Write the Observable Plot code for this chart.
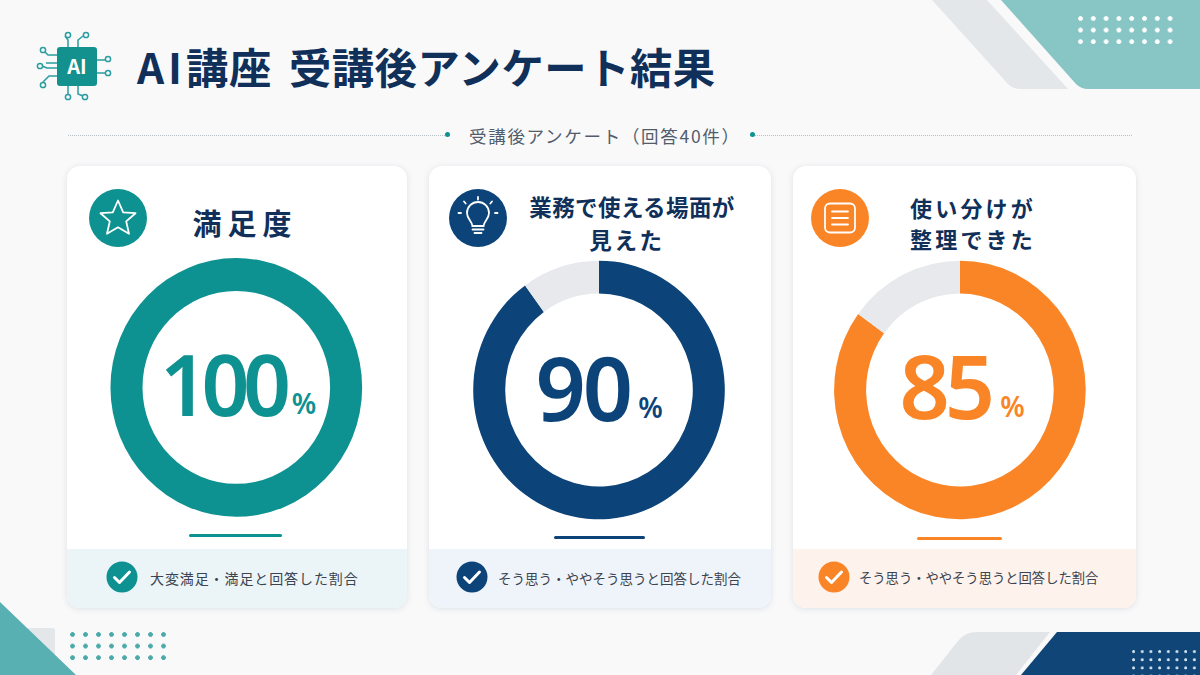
<!doctype html>
<html lang="ja"><head><meta charset="utf-8">
<script src="https://cdn.jsdelivr.net/npm/d3@7"></script>
<script src="https://cdn.jsdelivr.net/npm/@observablehq/plot@0.6"></script>
<style>
html,body{margin:0;background:#f9f9fa;}
#page{position:relative;width:1200px;height:675px;overflow:hidden;background:#f9f9fa;font-family:"Noto Sans CJK JP","Noto Sans",sans-serif;color:#10305a;}
#page div{position:absolute;box-sizing:border-box;}
h1{position:absolute;left:137px;top:36px;margin:0;font-size:42.3px;line-height:60px;font-weight:700;letter-spacing:.55px;word-spacing:7px;color:#10305a;white-space:nowrap;}
h1 span{letter-spacing:4px;}
.sub{left:469px;top:123px;font-size:17.5px;line-height:26px;letter-spacing:1.7px;color:#525c6b;white-space:nowrap;font-weight:400;}
.rule{top:134.5px;height:0;border-top:1px dotted #b9c0c5;}
.dotm{top:132px;width:5px;height:5px;border-radius:50%;background:#0e9191;}
.card{background:#fff;border-radius:13px;box-shadow:0 1px 6px rgba(40,60,80,.13);overflow:hidden;}
.band{left:0;right:0;height:59px;bottom:0;}
.ttl{text-align:center;font-weight:700;color:#10305a;}
.ttl span{display:block;white-space:nowrap;}
.cap{white-space:nowrap;color:#3b4450;font-weight:400;}
.ul{height:3px;border-radius:2px;}
.dots{background-repeat:repeat;}
</style></head><body>
<div id="page"></div>
<script>
// ---- data ----
const categories = ["満足度", "業務で使える場面が\n見えた", "使い分けが\n整理できた"];
const agreeShare = [100, 90, 85];
const restShare  = [0, 10, 15];
const captions = ["大変満足・満足と回答した割合", "そう思う・ややそう思うと回答した割合", "そう思う・ややそう思うと回答した割合"];
const colors = ["#0e9191", "#0c4479", "#fa8526"];
const bandColors = ["#ebf5f8", "#eff3fa", "#fdf2ec"];
const restColor = "#e7e9ec";
const pageTitleHead = "AI";
const pageTitleTail = "講座 受講後アンケート結果";
const pageSubtitle = "受講後アンケート（回答40件）";
const percentSign = "%";

// ---- layout of the slide furniture ----
const cardX = [67, 429, 793], cardW = [340, 342, 343], cardY = 166, cardH = 442;
const titleStyle = [
  {x:245, y:203, fs:29, ls:[6], lh:38, dx:[0]},
  {x:632, y:190, fs:22.5, ls:[.4,2.6], lh:33, dx:[0,-5]},
  {x:973, y:192, fs:22, ls:[3.2,3.2], lh:31, dx:[0,0]}];
const iconX = [118, 478, 840], iconY = 218;
const ulX = [189, 554, 917], ulW = [93, 91, 85], ulY = [534, 536, 537];
const checkX = [122, 472, 834];
const capStyle = [{x:150, fs:14, ls:.9},{x:498, fs:13.5, ls:0},{x:859, fs:13.3, ls:0}];
const donutOffset = [[-1.2,-2.6],[.5,0],[.4,0]];
const numberSize = [84, 88, 88], numberSpacing = [-6.5, -3, -5];
const numberDx = [-78, -63.5, -60.5], numberDy = [-1, 2, .5], percentDx = [7, 8, 10];

const page = document.getElementById("page");
function el(cls, css, html){const d=document.createElement("div");d.className=cls;d.style.cssText=css;if(html!==undefined)d.innerHTML=html;page.appendChild(d);return d;}
function dots(x,y,w,h,sx,sy,r,c){el("dots",`left:${x}px;top:${y}px;width:${w}px;height:${h}px;background-image:radial-gradient(circle at ${r+.5}px ${r+.5}px,${c} ${r}px,transparent ${r+.7}px);background-size:${sx}px ${sy}px;`);}

// corners
el("",`left:920px;top:0;width:160px;height:90px;background:#e3e7ea;clip-path:path('M12 0 L67 0 L148 89 L100 89 Q93 89 88 84 Z');`);
el("",`left:990px;top:0;width:210px;height:90px;background:#88c5c5;clip-path:path('M11 0 L210 0 L210 89 L98 89 Q91 89 86 84 Z');`);
dots(1078,16,96,30,12.8,11.6,2,"#ffffff");
el("",`left:0;top:628px;width:55px;height:47px;background:#e3e7ea;border-radius:0 3px 0 0;`);
el("",`left:0;top:600px;width:80px;height:75px;background:#58b0b2;clip-path:polygon(0 2px,76px 75px,0 75px);`);
dots(70,632,96,30,13,11.6,2,"#4ba9a9");
el("",`left:925px;top:632px;width:130px;height:43px;background:#e1e5e8;clip-path:path('M6 43 L33 9 Q40 0 52 0 L125 0 L91 43 Z');`);
el("",`left:1015px;top:632px;width:185px;height:43px;background:#0f4577;clip-path:polygon(42px 0,185px 0,185px 43px,6px 43px);`);
dots(1132,650,68,25,8.7,8.2,1.1,"#d7e4ee");

// header
const h=document.createElement("h1");h.innerHTML=`<span>${pageTitleHead}</span>${pageTitleTail}`;page.appendChild(h);
el("",`left:36px;top:30px;width:78px;height:72px;`,`<svg width="78" height="72" viewBox="36 30 78 72" fill="none" stroke="#2a9da0" stroke-width="1.5">
<path d="M68 48V40L65 36M78 48V40L83 36M68 86V94L67 96M78 86V94L83 96M57 55H48L43 50M57 63H46M57 68H47L42 66M57 76H49L43 82M97 60H107M97 73H107"/>
<g fill="#f9f9fa"><circle cx="68" cy="35" r="2.6"/><circle cx="86" cy="35" r="2.6"/><circle cx="68" cy="97" r="2.6"/><circle cx="85" cy="97" r="2.6"/><circle cx="43" cy="50" r="2.6"/><circle cx="40" cy="66" r="2.6"/><circle cx="43" cy="85" r="2.6"/><circle cx="108" cy="59" r="2.6"/><circle cx="108" cy="73" r="2.6"/></g>
<rect x="57" y="47" width="40" height="39" rx="3" fill="#12918f" stroke="none"/>
<text x="77" y="74" text-anchor="middle" font-family="Noto Sans CJK JP" font-size="20" font-weight="700" fill="#fff" stroke="none">AI</text></svg>`);
el("rule","left:68px;width:377px;");
el("rule","left:755px;width:377px;");
el("dotm","left:445px;");el("dotm","left:750px;");
el("sub","",pageSubtitle);

// cards
const icons=[
 `<path d="M0 -17.5 L5.2 -5.7 L17.5 -4.8 L8.2 3.4 L11 15.8 L0 9.3 L-11 15.8 L-8.2 3.4 L-17.5 -4.8 L-5.2 -5.7 Z" stroke-linejoin="round"/>`,
 `<path d="M-5.6 8 C-6 3 -11 1 -11 -5 A11 11 0 0 1 11 -5 C11 1 6 3 5.6 8 Z M-5.5 11.5H5.5M-3.5 15H3.5M0 -21V-18.5M-14 -16.5L-12.3 -14.5M14 -16.5L12.3 -14.5M-17 -5H-19.5M17 -5H19.5" stroke-linecap="round"/>`,
 `<rect x="-15" y="-14.5" width="30" height="29" rx="5"/><path d="M-8 -6.5H8M-8 0H8M-8 6.5H8" stroke-linecap="round"/>`];
categories.forEach((c,i)=>{
  el("card",`left:${cardX[i]}px;top:${cardY}px;width:${cardW[i]}px;height:${cardH}px;`,`<div class="band" style="background:${bandColors[i]}"></div>`);
  el("",`left:${iconX[i]-30}px;top:${iconY-30}px;width:60px;height:60px;`,`<svg width="60" height="60" viewBox="-30 -30 60 60"><circle r="29" fill="${colors[i]}"/><g fill="none" stroke="#fff" stroke-width="1.8">${icons[i]}</g></svg>`);
  const t=titleStyle[i];
  const lines=c.split("\n").map((l,j)=>`<span style="letter-spacing:${t.ls[j]}px;transform:translateX(${t.dx[j]}px)">${l}</span>`).join("");
  el("ttl",`left:${t.x-200}px;top:${t.y}px;width:400px;font-size:${t.fs}px;line-height:${t.lh}px;`,lines);
  el("ul",`left:${ulX[i]}px;top:${ulY[i]}px;width:${ulW[i]}px;background:${colors[i]};`);
  el("",`left:${checkX[i]-16}px;top:561px;width:32px;height:32px;`,`<svg width="32" height="32" viewBox="-16 -16 32 32"><circle r="15.5" fill="${colors[i]}"/><path d="M-7.5 0.5L-2.5 5.5L7.5 -5" fill="none" stroke="#fff" stroke-width="3" stroke-linecap="round" stroke-linejoin="round"/></svg>`);
  const s=capStyle[i];
  el("cap",`left:${s.x}px;top:567px;line-height:22px;font-size:${s.fs}px;letter-spacing:${s.ls}px;`,captions[i]);
});

// ---- the chart: one donut per category, through Plot's own scales ----
const rows = categories.flatMap((category,i)=>[
  {category, part:"agree", start:0, end:agreeShare[i], color:colors[i], label:String(agreeShare[i])},
  {category, part:"rest", start:agreeShare[i], end:agreeShare[i]+restShare[i], color:restColor, label:""}
]);
const agreeRows = rows.filter(d=>d.part==="agree");
const offsetOf = c => donutOffset[categories.indexOf(c)];
const centerX = dim => dim.marginLeft+(dim.width-dim.marginLeft-dim.marginRight)/2;
const centerY = dim => dim.marginTop+(dim.height-dim.marginTop-dim.marginBottom)/2;

function donutArc(index, scales, values, dim){
  const g = d3.create("svg:g");
  const arc = d3.arc().innerRadius(93.8).outerRadius(125.8);
  for (const i of index){
    const [ox,oy] = offsetOf(rows[i].category);
    if (values.x2[i]<=values.x1[i]) continue;
    g.append("path")
     .attr("transform",`translate(${centerX(dim)+ox},${centerY(dim)+oy}) scale(1,1.028)`)
     .attr("d",arc({startAngle:values.x1[i],endAngle:values.x2[i]}))
     .attr("fill",values.fill[i]);
  }
  return g.node();
}
function percentText(index, scales, values, dim, ctx, next){
  const node = next(index, scales, values, dim, ctx);
  d3.select(node).attr("text-anchor","start");
  d3.select(node).selectAll("text").each(function(d,k){
    const t=d3.select(this);
    const c=categories.indexOf(agreeRows[index[k]].category);
    t.attr("transform",`translate(${centerX(dim)+numberDx[c]},${centerY(dim)+numberDy[c]})`)
     .attr("font-size",numberSize[c]).attr("letter-spacing",numberSpacing[c]);
    t.append("tspan").attr("dx",percentDx[c]).attr("dy",-2.5).attr("font-size",28).attr("font-weight",600).attr("letter-spacing",0).text(percentSign);
  });
  return node;
}
const chart = Plot.plot({
  width:1200, height:270,
  marginLeft:56.5, marginRight:60.5, marginTop:0, marginBottom:0,
  style:{background:"transparent",overflow:"visible"},
  fx:{domain:categories, axis:null, padding:0},
  x:{domain:[0,100], range:[0,2*Math.PI], axis:null},
  marks:[
    Plot.barX(rows,{fx:"category",x1:"start",x2:"end",fill:"color",render:donutArc}),
    Plot.text(agreeRows,{fx:"category",text:"label",frameAnchor:"middle",fill:"color",
      fontWeight:560,fontFamily:"Noto Sans",render:percentText})
  ]
});
const holder=el("",`left:0;top:255px;width:1200px;height:270px;`);
holder.appendChild(chart);
</script>
</body></html>
